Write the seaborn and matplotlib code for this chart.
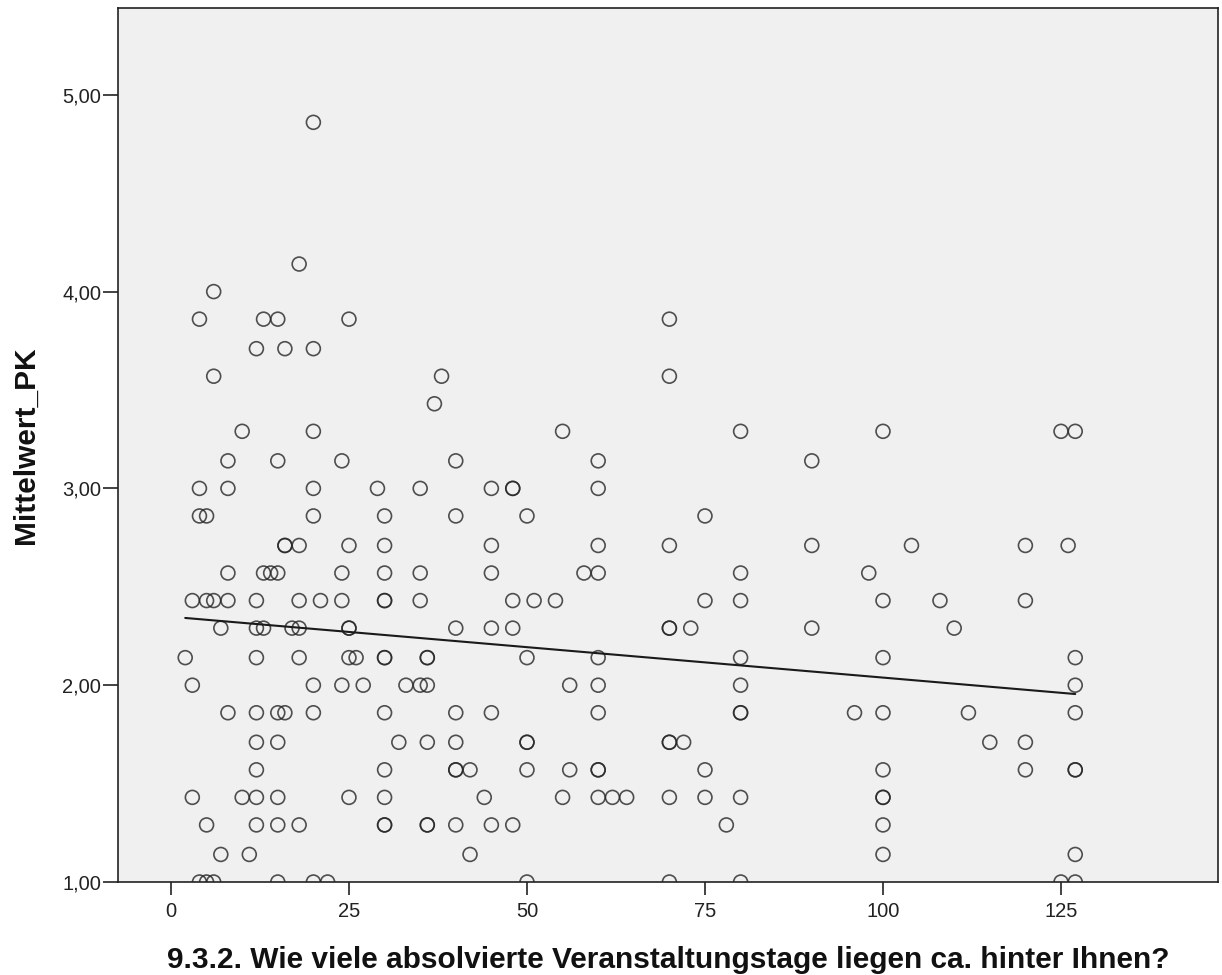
import matplotlib
matplotlib.use("Agg")
import matplotlib.pyplot as plt
import matplotlib.ticker as mticker
from matplotlib import font_manager
import seaborn as sns
import pandas as pd

# ---- data: Mittelwert_PK levels and the day counts observed at each level ----
levels = [1.00, 1.14, 1.29, 1.43, 1.57, 1.71, 1.86, 2.00, 2.14, 2.29, 2.43, 2.57,
          2.71, 2.86, 3.00, 3.14, 3.29, 3.43, 3.57, 3.71, 3.86, 4.00, 4.14, 4.86]
days_per_level = [
    [4, 5, 6, 15, 20, 22, 50, 70, 80, 125, 127],                                # 1.00
    [7, 11, 42, 100, 127],                                                      # 1.14
    [5, 12, 15, 18, 30, 30, 36, 36, 40, 45, 48, 78, 100],                       # 1.29
    [3, 10, 12, 15, 25, 30, 44, 55, 60, 62, 64, 70, 75, 80, 100, 100],          # 1.43
    [12, 30, 40, 40, 42, 50, 56, 60, 60, 75, 100, 120, 127, 127],               # 1.57
    [12, 15, 32, 36, 40, 50, 50, 70, 70, 72, 115, 120],                         # 1.71
    [8, 12, 15, 16, 20, 30, 40, 45, 60, 80, 80, 96, 100, 112, 127],             # 1.86
    [3, 20, 24, 27, 33, 35, 36, 56, 60, 80, 127],                               # 2.00
    [2, 12, 18, 25, 26, 30, 30, 36, 36, 50, 60, 80, 100, 127],                  # 2.14
    [7, 12, 13, 17, 18, 25, 25, 40, 45, 48, 70, 70, 73, 90, 110],               # 2.29
    [3, 5, 6, 8, 12, 18, 21, 24, 30, 30, 35, 48, 51, 54, 75, 80, 100, 108, 120],  # 2.43
    [8, 13, 14, 15, 24, 30, 35, 45, 58, 60, 80, 98],                            # 2.57
    [16, 16, 18, 25, 30, 45, 60, 70, 90, 104, 120, 126],                        # 2.71
    [4, 5, 20, 30, 40, 50, 75],                                                 # 2.86
    [4, 8, 20, 29, 35, 45, 48, 48, 60],                                         # 3.00
    [8, 15, 24, 40, 60, 90],                                                    # 3.14
    [10, 20, 55, 80, 100, 125, 127],                                            # 3.29
    [37],                                                                       # 3.43
    [6, 38, 70],                                                                # 3.57
    [12, 16, 20],                                                               # 3.71
    [4, 13, 15, 25, 70],                                                        # 3.86
    [6],                                                                        # 4.00
    [18],                                                                       # 4.14
    [20],                                                                       # 4.86
]
x_ticks = [0, 25, 50, 75, 100, 125]
y_ticks = [1, 2, 3, 4, 5]
x_label = "9.3.2. Wie viele absolvierte Veranstaltungstage liegen ca. hinter Ihnen?"
y_label = "Mittelwert_PK"

rows = [(d, lv) for lv, ds in zip(levels, days_per_level) for d in ds]
df = pd.DataFrame(rows, columns=["Tage", "Mittelwert_PK"])

# ---- fonts ----
available = {f.name for f in font_manager.fontManager.ttflist}
label_font = "Liberation Sans Narrow" if "Liberation Sans Narrow" in available else "Liberation Sans"
tick_font = "Liberation Sans"

sns.set_style("white")
plt.rcParams["font.family"] = [tick_font, "DejaVu Sans"]

fig = plt.figure(figsize=(12.22, 9.75), dpi=100)
fig.patch.set_facecolor("white")
ax = fig.add_axes([118 / 1222, 1 - 882 / 975, 1100 / 1222, 874 / 975])
ax.set_facecolor("#F0F0F0")

sns.regplot(
    data=df, x="Tage", y="Mittelwert_PK", ax=ax, ci=None, truncate=True,
    scatter_kws=dict(s=100, facecolors="none", edgecolors="#262626", linewidths=1.2),
    line_kws=dict(color="#1a1a1a", linewidth=1.5),
)

ax.set_xlim(-7.44, 147.05)
ax.set_ylim(1.0, 5.441)
ax.set_xticks(x_ticks)
ax.set_yticks(y_ticks)
ax.yaxis.set_major_formatter(mticker.FuncFormatter(lambda v, p: f"{v:.2f}".replace(".", ",")))
ax.xaxis.set_major_formatter(mticker.FuncFormatter(lambda v, p: f"{int(v)}"))

for sp in ax.spines.values():
    sp.set_visible(True)
    sp.set_color("#222222")
    sp.set_linewidth(1.2)

ax.tick_params(axis="both", direction="out", width=1.2, color="#222222",
               labelsize=14.5, labelcolor="#222222", bottom=True, left=True,
               top=False, right=False)
ax.tick_params(axis="x", length=9.5, pad=5)
ax.tick_params(axis="y", length=11, pad=1)

ax.set_xlabel(x_label, fontsize=21.5, fontweight="bold", family=[label_font, "DejaVu Sans"],
              labelpad=18, color="#111111")
ax.set_ylabel(y_label, fontsize=21.5, fontweight="bold", family=[label_font, "DejaVu Sans"],
              labelpad=16, color="#111111")

fig.savefig("out.png", dpi=100)
